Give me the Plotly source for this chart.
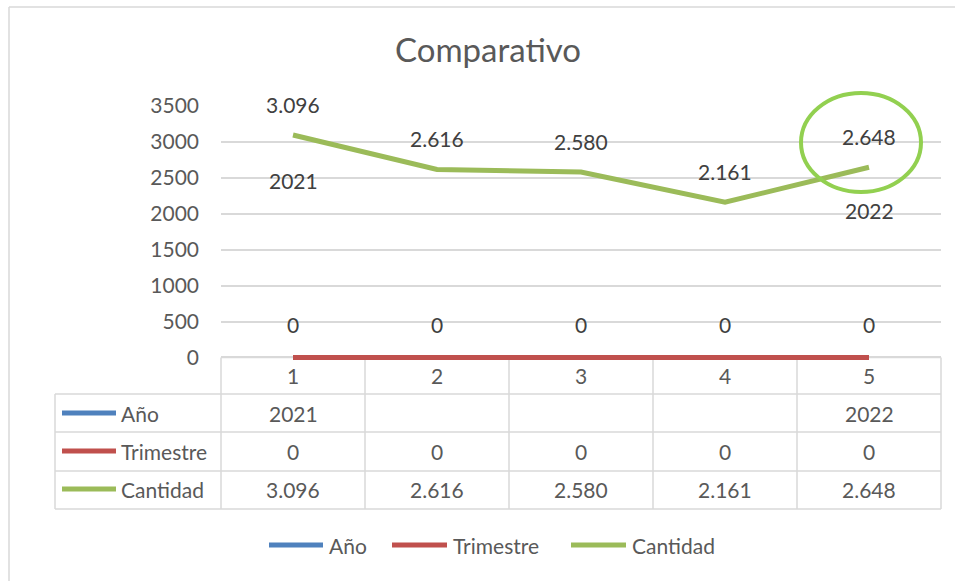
import plotly.graph_objects as go

# ---------------- data ----------------
categories = ["1", "2", "3", "4", "5"]
series_names = ["Año", "Trimestre", "Cantidad"]
anio = [2021, None, None, None, 2022]
trimestre = [0, 0, 0, 0, 0]
cantidad = [3096, 2616, 2580, 2161, 2648]
y_ticks = [0, 500, 1000, 1500, 2000, 2500, 3000, 3500]
title_text = "Comparativo"

# ---------------- style ----------------
colors = ["#4F81BD", "#C0504D", "#9BBB59"]
FONT = "Lato"
FS = 21
TXT = "#595959"
LBL = "#404040"
GRID = "#D9D9D9"
W, H = 955, 581
L, R, T, B = 221, 941, 106, 360


def xp(px):
    return (px - L) / (R - L)


def yp(py):
    return (B - py) / (B - T)


def fmt(v):
    if v is None:
        return ""
    return f"{v:,}".replace(",", ".")


series_vals = [anio, trimestre, cantidad]
series_fmt = [str, fmt, fmt]
# label offsets in pixels (above the point) per series / point
label_shift = [[32, 0, 0, 0, 2], [33] * 5, [31] * 5]

xs = list(range(1, len(categories) + 1))

fig = go.Figure()
for name, vals, col in zip(series_names, series_vals, colors):
    fig.add_trace(go.Scatter(
        x=xs, y=vals, name=name, mode="lines",
        line=dict(color=col, width=5),
        connectgaps=False, hoverinfo="skip", showlegend=False,
    ))

annotations = []
# data labels
for s, vals in enumerate(series_vals):
    for i, v in enumerate(vals):
        if v is None:
            continue
        annotations.append(dict(
            x=xs[i], y=v, xref="x", yref="y", text=series_fmt[s](v),
            showarrow=False, yshift=label_shift[s][i], yanchor="middle",
            font=dict(family=FONT, size=FS, color=LBL),
        ))

# table header (categories)
for i, c in enumerate(categories):
    annotations.append(dict(
        x=xs[i], y=yp(375), xref="x", yref="paper", text=c, showarrow=False,
        yanchor="middle", font=dict(family=FONT, size=FS, color=TXT),
    ))

row_y = [413, 451, 489]
for s, (name, vals) in enumerate(zip(series_names, series_vals)):
    annotations.append(dict(
        x=xp(119), y=yp(row_y[s]), xref="paper", yref="paper", text=name,
        xanchor="left", yanchor="middle", showarrow=False,
        font=dict(family=FONT, size=FS, color=TXT),
    ))
    for i, v in enumerate(vals):
        if v is None:
            continue
        annotations.append(dict(
            x=xs[i], y=yp(row_y[s]), xref="x", yref="paper",
            text=series_fmt[s](v), showarrow=False, yanchor="middle",
            font=dict(family=FONT, size=FS, color=TXT),
        ))

# bottom legend (Excel style: long line keys)
legend_key_x = [(269, 323), (392, 447), (571, 626)]
for s, (name, col) in enumerate(zip(series_names, colors)):
    a, b = legend_key_x[s]
    annotations.append(dict(
        x=xp(b + 4), y=yp(545), xref="paper", yref="paper", text=name,
        xanchor="left", yanchor="middle", showarrow=False,
        font=dict(family=FONT, size=FS, color=TXT),
    ))

shapes = []
# chart border
shapes.append(dict(type="line", xref="paper", yref="paper", x0=xp(9), x1=xp(960),
                   y0=yp(7), y1=yp(7), line=dict(color=GRID, width=1.5), layer="below"))
shapes.append(dict(type="line", xref="paper", yref="paper", x0=xp(9), x1=xp(9),
                   y0=yp(7), y1=yp(590), line=dict(color=GRID, width=1.5), layer="below"))
# table grid
for py in [394, 432, 471, 509]:
    shapes.append(dict(type="line", xref="paper", yref="paper", x0=xp(55), x1=xp(941),
                       y0=yp(py), y1=yp(py), line=dict(color=GRID, width=1.5), layer="below"))
shapes.append(dict(type="line", xref="paper", yref="paper", x0=xp(221), x1=xp(941),
                   y0=yp(357.5), y1=yp(357.5), line=dict(color=GRID, width=1.5), layer="below"))
for k in range(len(categories) + 1):
    px = L + k * (R - L) / len(categories)
    shapes.append(dict(type="line", xref="paper", yref="paper", x0=xp(px), x1=xp(px),
                       y0=yp(357.5), y1=yp(509), line=dict(color=GRID, width=1.5), layer="below"))
shapes.append(dict(type="line", xref="paper", yref="paper", x0=xp(55), x1=xp(55),
                   y0=yp(394), y1=yp(509), line=dict(color=GRID, width=1.5), layer="below"))
# table legend keys
for s, col in enumerate(colors):
    shapes.append(dict(type="line", xref="paper", yref="paper", x0=xp(62), x1=xp(116),
                       y0=yp(row_y[s]), y1=yp(row_y[s]), line=dict(color=col, width=5)))
# bottom legend keys
for s, col in enumerate(colors):
    a, b = legend_key_x[s]
    shapes.append(dict(type="line", xref="paper", yref="paper", x0=xp(a), x1=xp(b),
                       y0=yp(545), y1=yp(545), line=dict(color=col, width=5)))
# highlight ellipse
shapes.append(dict(type="circle", xref="paper", yref="paper", x0=xp(801), x1=xp(921),
                   y0=yp(93), y1=yp(192), line=dict(color="#92D050", width=4)))

fig.update_layout(
    width=W, height=H,
    margin=dict(l=L, r=W - R, t=T, b=H - B, autoexpand=False),
    paper_bgcolor="white", plot_bgcolor="white",
    font=dict(family=FONT, size=FS, color=TXT),
    title=dict(text=title_text, x=488 / W, xanchor="center", xref="container",
               y=1 - 50 / H, yanchor="middle", yref="container",
               font=dict(family=FONT, size=33, color=TXT)),
    xaxis=dict(range=[0.5, 5.5], showticklabels=False, showgrid=False,
               zeroline=False, showline=False, fixedrange=True),
    yaxis=dict(range=[-35, 3500], tickvals=y_ticks, showgrid=True, gridcolor=GRID,
               gridwidth=1.5, zeroline=False, showline=False, ticks="",
               ticklabelstandoff=21, tickfont=dict(family=FONT, size=FS, color=TXT)),
    showlegend=False,
    annotations=annotations, shapes=shapes,
)

fig.write_html("out.html", config={"displayModeBar": False},
               post_script="document.body.style.margin='0px';")
